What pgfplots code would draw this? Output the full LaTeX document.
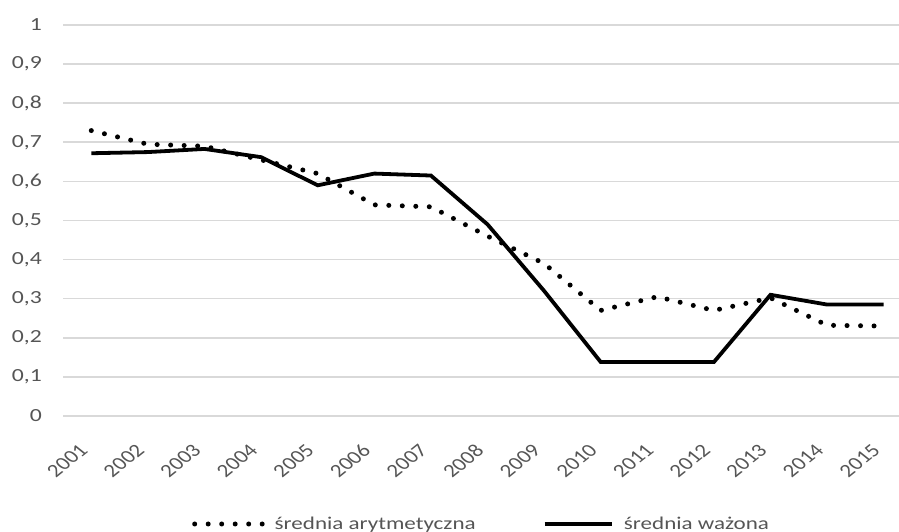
\documentclass[border=0pt]{standalone}
\usepackage{pgfplots}
\pgfplotsset{compat=1.18}
\usepackage{graphicx}
\usepackage{fontspec}
\setmainfont{Carlito}
\definecolor{txt}{HTML}{555555}
\definecolor{gridc}{HTML}{D9D9D9}

% text is set a little wider than the font's own shapes
\newcommand\wide[2]{\scalebox{1.28}[1]{\fontsize{#1}{#1}\selectfont #2}}
% year labels: turned by 45 degrees, then widened like the rest of the text
\newcommand\yr[1]{\scalebox{1.25}[1]{\rotatebox{45}{\fontsize{18.5bp}{20bp}\selectfont #1}}}
% value labels on the left
\newcommand\yv[1]{\wide{18.5bp}{#1}}

\pgfplotstableread{
x arytm wazona
0  0.730 0.672
1  0.695 0.675
2  0.690 0.683
3  0.655 0.662
4  0.620 0.590
5  0.540 0.620
6  0.535 0.615
7  0.460 0.490
8  0.390 0.320
9  0.270 0.138
10 0.305 0.138
11 0.270 0.138
12 0.302 0.310
13 0.232 0.285
14 0.230 0.285
}\dane

\begin{document}
\begin{tikzpicture}[x=1bp,y=1bp]
\begin{axis}[
  at={(63bp,116bp)}, anchor=south west,
  scale only axis,
  width=836bp, height=391bp,
  xmin=-0.5, xmax=14.27,
  ymin=0, ymax=1,
  ytick={0,0.1,0.2,0.3,0.4,0.5,0.6,0.7,0.8,0.9,1},
  yticklabels={\yv{0},\yv{0,1},\yv{0,2},\yv{0,3},\yv{0,4},\yv{0,5},\yv{0,6},\yv{0,7},\yv{0,8},\yv{0,9},\yv{1}},
  xtick={0,...,14},
  xticklabels={\yr{2001},\yr{2002},\yr{2003},\yr{2004},\yr{2005},\yr{2006},\yr{2007},\yr{2008},\yr{2009},\yr{2010},\yr{2011},\yr{2012},\yr{2013},\yr{2014},\yr{2015}},
  axis line style={draw=none},
  major tick length=0pt,
  ymajorgrids, xmajorgrids=false,
  grid style={draw=gridc, line width=1.6bp},
  every tick label/.append style={text=txt, inner sep=0pt},
  yticklabel shift=21bp,
  every y tick label/.append style={anchor=east},
  every x tick label/.append style={anchor=north east, xshift=-2bp, yshift=-27bp},
  legend style={at={(0.1543,-0.2762)}, anchor=west, draw=none, fill=none,
    inner sep=0pt, nodes={inner sep=0pt},
    legend columns=2, text=txt,
    /tikz/every odd column/.append style={column sep=10bp},
    /tikz/every even column/.append style={column sep=67bp}},
  legend image code/.code={\draw[#1] (0bp,0bp) -- (67.5bp,0bp);},
]
\addplot[black, line width=5bp, line cap=round, dash pattern=on 0pt off 13.5bp] table[x=x, y=arytm] {\dane};
\addlegendentry{\wide{18bp}{średnia arytmetyczna}}
\addplot[black, line width=3.8bp] table[x=x, y=wazona] {\dane};
\addlegendentry{\wide{18bp}{średnia ważona}}
\end{axis}
\pgfresetboundingbox
\useasboundingbox (0,0) rectangle (899bp,532bp);
\end{tikzpicture}
\end{document}
